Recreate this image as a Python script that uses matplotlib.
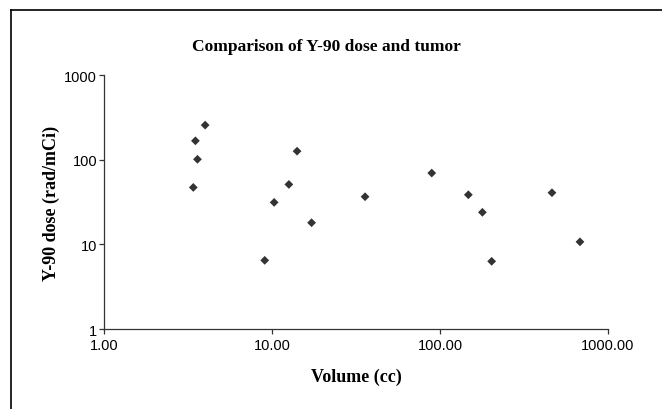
import matplotlib

matplotlib.use("Agg")
import matplotlib.pyplot as plt
from matplotlib.lines import Line2D
from matplotlib.ticker import FixedLocator, FixedFormatter, NullLocator

# 데이터
volume_cc = [4.0, 3.5, 3.6, 3.4, 14.1, 12.6, 10.3, 17.2, 9.05, 35.8,
             89.3, 147.5, 178.8, 203.0, 464.0, 681.0]
dose_rad_mci = [256, 167, 101, 47, 126, 51, 31.3, 18, 6.47, 36.5,
                69.5, 38.5, 23.9, 6.3, 40.7, 10.7]

x_ticks = [1, 10, 100, 1000]
x_tick_labels = ["1.00", "10.00", "100.00", "1000.00"]
y_ticks = [1, 10, 100, 1000]
y_tick_labels = ["1", "10", "100", "1000"]

W, H = 662, 410
fig = plt.figure(figsize=(W / 100, H / 100), dpi=100)
ax = fig.add_axes((104 / W, 1 - 330 / H, 504 / W, 254 / H))

ax.scatter(volume_cc, dose_rad_mci, marker="D", s=20, color="#333333",
           edgecolors="none", zorder=3)

ax.set_xscale("log")
ax.set_yscale("log")
ax.set_xlim(1, 1000)
ax.set_ylim(1, 1000)

ax.xaxis.set_major_locator(FixedLocator(x_ticks))
ax.xaxis.set_major_formatter(FixedFormatter(x_tick_labels))
ax.xaxis.set_minor_locator(NullLocator())
ax.yaxis.set_major_locator(FixedLocator(y_ticks))
ax.yaxis.set_major_formatter(FixedFormatter(y_tick_labels))
ax.yaxis.set_minor_locator(NullLocator())

for side in ("top", "right"):
    ax.spines[side].set_visible(False)
for side in ("left", "bottom"):
    ax.spines[side].set_color("#333333")
    ax.spines[side].set_linewidth(0.9)

ax.tick_params(axis="both", which="major", length=3.5, width=0.9,
               color="#333333", labelsize=10.5)
ax.tick_params(axis="x", pad=3)
ax.tick_params(axis="y", pad=1.5)
for lbl in ax.get_xticklabels() + ax.get_yticklabels():
    lbl.set_fontfamily("Liberation Sans")

ax.set_xlabel("Volume (cc)", fontsize=13, fontweight="bold",
              fontfamily="Liberation Serif", labelpad=11)
ax.set_ylabel("Y-90 dose (rad/mCi)", fontsize=13, fontweight="bold",
              fontfamily="Liberation Serif", labelpad=3)

fig.text(326 / W, 1 - 47 / H, "Comparison of Y-90 dose and tumor",
         ha="center", va="center", fontsize=12.5, fontweight="bold",
         fontfamily="Liberation Serif")

# 바깥 테두리 (위/왼쪽만 보임)
fig.add_artist(Line2D([11 / W, 11 / W], [0, 1 - 11 / H],
                      transform=fig.transFigure, color="black", lw=1.2))
fig.add_artist(Line2D([11 / W, 1], [1 - 11 / H, 1 - 11 / H],
                      transform=fig.transFigure, color="black", lw=1.2))

fig.savefig("out.png", dpi=100)
